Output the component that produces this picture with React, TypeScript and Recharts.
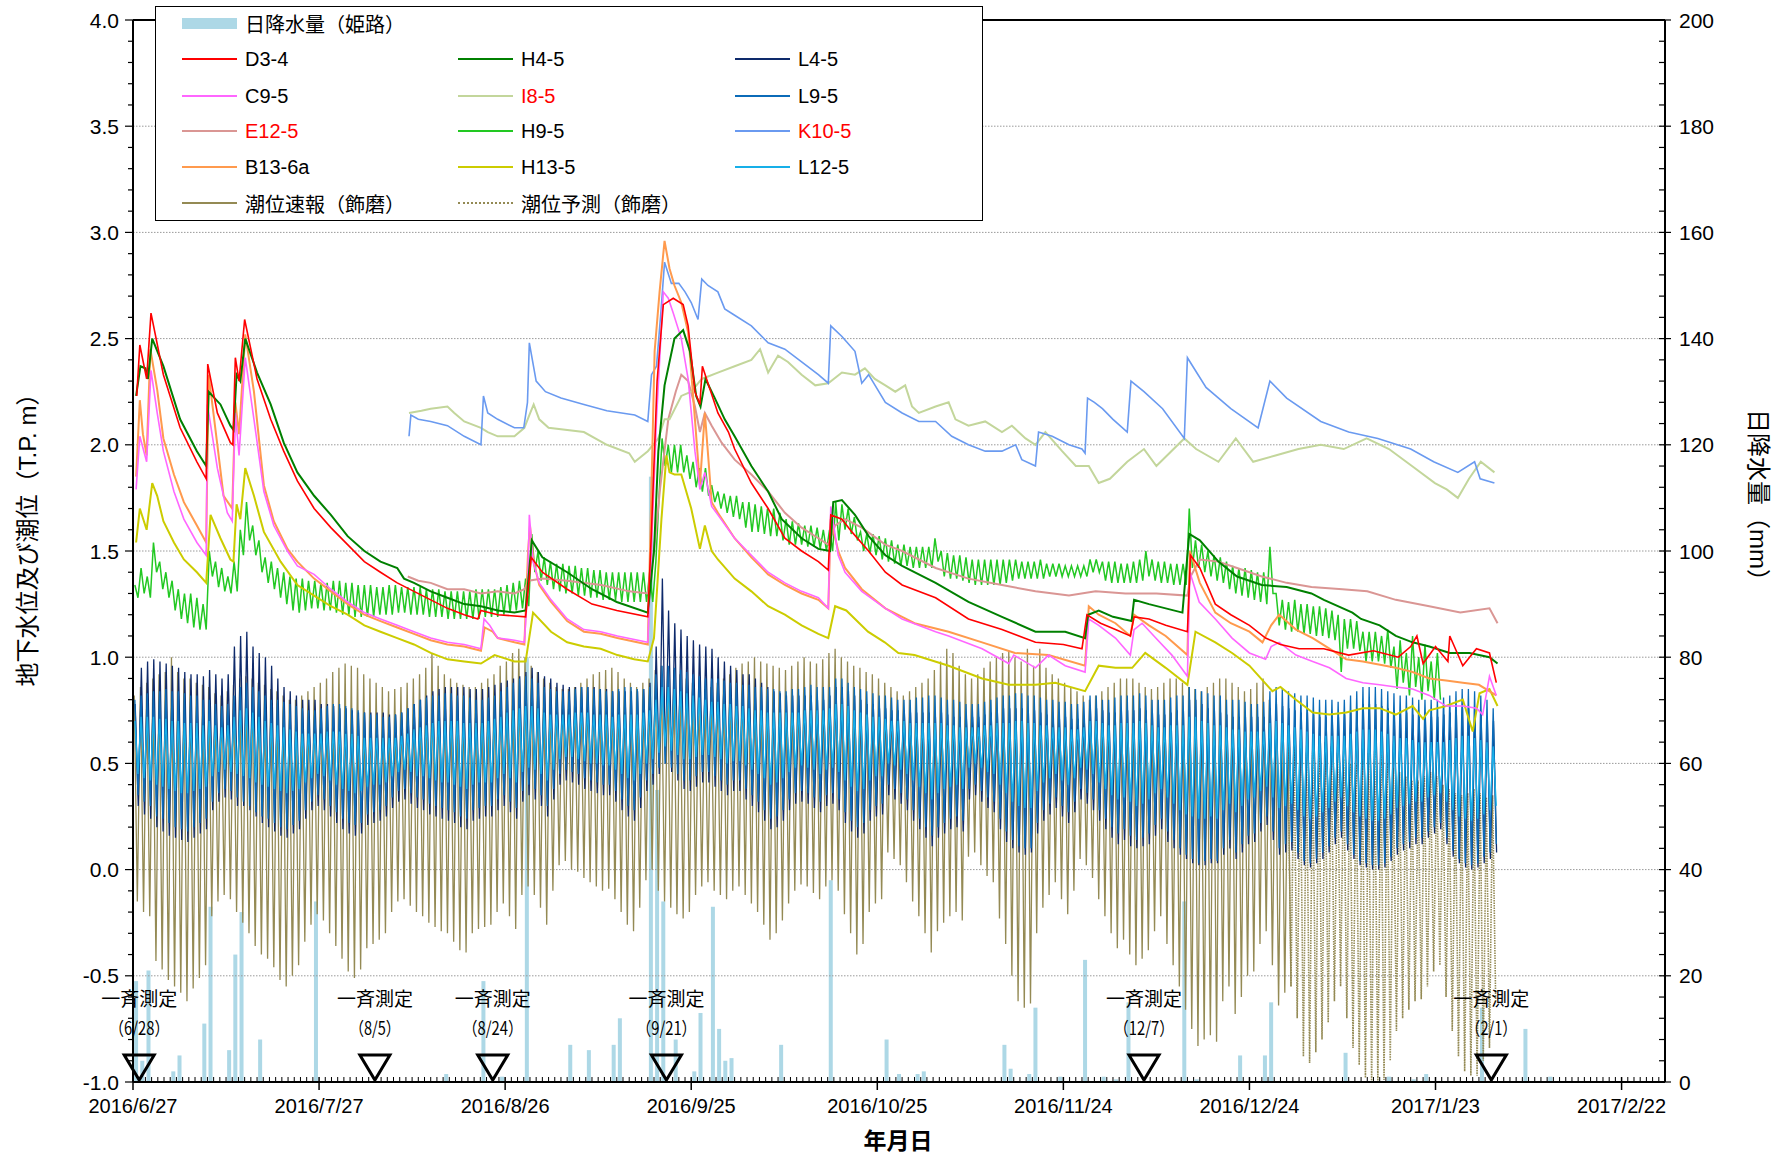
import React from "react";
import { ComposedChart, Bar, Line, XAxis, YAxis, ReferenceLine, Scatter } from "recharts";

// x values are days counted from 2016/6/27
const xTickDays = [0, 30, 60, 90, 120, 150, 180, 210, 240];
const xTickLabels = ["2016/6/27", "2016/7/27", "2016/8/26", "2016/9/25", "2016/10/25", "2016/11/24", "2016/12/24", "2017/1/23", "2017/2/22"];
const leftTicks = [-1.0, -0.5, 0.0, 0.5, 1.0, 1.5, 2.0, 2.5, 3.0, 3.5, 4.0];
const rightTicks = [0, 20, 40, 60, 80, 100, 120, 140, 160, 180, 200];

// daily rainfall (Himeji)
const rainDays = [0, 1, 2, 6, 7, 11, 12, 15, 16, 17, 20, 29, 50, 56, 59, 63, 70, 73, 77, 78, 83, 84, 85, 87, 90, 91, 93, 94, 95, 96, 104, 112, 121, 123, 126, 127, 140, 141, 144, 145, 149, 153, 156, 158, 160, 169, 171, 178, 182, 183, 195, 202, 206, 208, 217, 224, 228];
const rainMm = [19, 4, 21, 2, 5, 11, 33, 6, 24, 32, 8, 34, 1.5, 19, 1, 80, 7, 6, 7, 12, 114, 55, 34, 8, 2, 13, 33, 10, 4, 4.5, 7, 38, 8, 1.5, 1.5, 2, 7, 2.5, 1.5, 14, 1, 23, 1, 0.5, 15, 34, 0.5, 5, 5, 15, 5.5, 1, 0.5, 1.5, 14, 10, 1];

// 一斉測定 dates
const surveyDays = [1, 39, 58, 86, 163, 219];
const surveyLabels = ["6/28", "8/5", "8/24", "9/21", "12/7", "2/1"];

// groundwater levels [day, T.P. m]
const d34: [number, number][] = [[0.6,2.23],[1.1,2.47],[2.2,2.31],[2.9,2.62],[4.9,2.33],[7.6,2.08],[10.3,1.92],[11.8,1.84],[12.05,2.38],[13.6,2.15],[15.7,2.01],[16.1,2.0],[16.5,2.41],[17.1,2.30],[18.0,2.59],[20,2.31],[22.2,2.12],[24.3,1.97],[26.5,1.83],[29.2,1.70],[31.9,1.61],[34.6,1.53],[37.3,1.45],[39.9,1.40],[42.6,1.35],[45.3,1.31],[48,1.27],[50.7,1.23],[53.4,1.20],[55.6,1.18],[56.1,1.22],[58.8,1.20],[63.3,1.19],[64.2,1.47],[66,1.40],[70,1.32],[74,1.25],[78,1.22],[83,1.19],[83.6,1.6],[84.5,2.3],[85.5,2.66],[87.1,2.69],[88.7,2.66],[89.5,2.56],[90.6,2.25],[91.4,2.19],[91.8,2.37],[92.7,2.29],[94.3,2.15],[96,2.06],[97,1.98],[99.7,1.82],[102.4,1.70],[105.1,1.56],[107.8,1.50],[110.5,1.45],[112.1,1.41],[112.5,1.67],[114.3,1.65],[115.9,1.59],[118.6,1.50],[121.3,1.40],[124,1.34],[129.4,1.28],[134.7,1.18],[140.1,1.13],[145.5,1.07],[150,1.06],[153,1.04],[153.8,1.20],[156,1.16],[158.4,1.13],[160.8,1.10],[161.4,1.19],[163.8,1.18],[166.5,1.15],[170,1.12],[170.5,1.48],[172,1.42],[174.5,1.25],[177,1.20],[180,1.15],[182.6,1.09],[185,1.06],[188,1.04],[192,1.04],[196,1.01],[200,1.03],[204,1.00],[206,1.05],[207,1.10],[208,0.97],[210,1.05],[212,0.98],[212.3,1.10],[214.4,0.96],[216.6,1.04],[218.7,1.02],[219.8,0.88]];
const c95: [number, number][] = [[0.5,1.79],[1.1,2.04],[2.2,1.92],[2.9,2.35],[3.9,2.15],[4.9,1.97],[6.6,1.78],[8.2,1.65],[10.3,1.54],[11.8,1.48],[12,2.19],[13.6,1.89],[15.2,1.68],[16,1.64],[16.5,2.15],[17.1,1.95],[18.1,2.41],[19.5,2.12],[21.1,1.78],[22.7,1.62],[24.9,1.50],[26.5,1.43],[29.2,1.39],[31.9,1.32],[34.6,1.26],[37.3,1.21],[39.9,1.18],[42.6,1.15],[45.3,1.12],[48,1.09],[50.7,1.07],[53.4,1.06],[56.1,1.04],[56.6,1.18],[57.5,1.15],[58.8,1.09],[61.5,1.08],[63.1,1.07],[63.6,1.3],[63.9,1.67],[64.5,1.45],[65.5,1.35],[67.4,1.27],[70,1.18],[72.7,1.13],[75.4,1.12],[78.1,1.10],[83,1.07],[84.4,2.12],[85.5,2.72],[86.3,2.69],[87.1,2.62],[88.4,2.50],[89.5,2.31],[90.6,1.97],[91.4,1.79],[92.2,1.87],[93.3,1.71],[94.3,1.67],[97,1.56],[99.7,1.48],[102.4,1.40],[105.1,1.35],[107.8,1.31],[110.5,1.28],[112.1,1.23],[112.5,1.71],[113.7,1.48],[114.8,1.40],[117.5,1.31],[121.3,1.23],[124,1.18],[129.4,1.12],[131.5,1.10],[136.9,1.04],[141.2,0.97],[142,1.01],[145.5,0.95],[147.6,1.01],[150.3,0.96],[153.5,0.93],[154.1,1.18],[155.7,1.15],[158.4,1.09],[160.8,1.01],[161.4,1.13],[162.7,1.16],[164.9,1.09],[167.5,1.01],[170,0.91],[170.4,1.40],[171.9,1.26],[174.5,1.18],[177.2,1.09],[180,1.02],[182.6,0.99],[183.5,1.05],[184.8,1.07],[187.5,1.01],[190.2,0.98],[192.9,0.95],[195.6,0.90],[198.3,0.88],[201,0.87],[203.6,0.86],[206.3,0.85],[209,0.82],[211.7,0.77],[214.4,0.77],[216.6,0.76],[217.6,0.73],[218.7,0.91],[219.8,0.82]];
const e125: [number, number][] = [[44.3,1.38],[46,1.36],[48,1.35],[50.7,1.32],[53.4,1.32],[56.1,1.30],[58.8,1.31],[61.5,1.30],[63.1,1.32],[63.8,1.36],[66,1.37],[70,1.36],[75.5,1.34],[80,1.31],[83,1.30],[84,1.5],[85,1.8],[86.3,2.12],[87.5,2.25],[88.4,2.33],[89.5,2.30],[90.6,2.18],[91.4,2.06],[92.2,2.15],[93.3,2.09],[94.9,2.01],[97,1.93],[99.7,1.86],[102.4,1.78],[105.1,1.68],[107.8,1.61],[110.5,1.56],[112.1,1.53],[113.2,1.62],[114.8,1.65],[117.5,1.61],[121.3,1.53],[124,1.50],[129.4,1.42],[134.7,1.37],[140.1,1.34],[145.5,1.31],[150.9,1.29],[155.2,1.31],[160,1.30],[165,1.30],[170,1.29],[170.5,1.38],[172,1.46],[175,1.45],[178,1.42],[182,1.38],[186,1.35],[190,1.33],[195,1.32],[199,1.31],[203.6,1.27],[209,1.24],[214,1.21],[218.7,1.23],[220,1.16]];
const b136a: [number, number][] = [[0.5,1.85],[1.1,2.21],[1.6,2.05],[2.2,1.95],[2.8,2.45],[3.9,2.26],[4.9,2.03],[6.6,1.86],[8.2,1.73],[10.3,1.62],[11.8,1.54],[12.2,2.33],[13.6,2.0],[14.6,1.76],[16,1.70],[16.5,2.2],[17.1,2.05],[18.1,2.52],[19.5,2.25],[21.1,1.81],[22.7,1.64],[24.9,1.51],[26.5,1.45],[29.2,1.37],[31.9,1.31],[34.6,1.25],[37.3,1.20],[39.9,1.17],[42.6,1.14],[45.3,1.11],[48,1.08],[50.7,1.06],[53.4,1.05],[56.1,1.03],[56.7,1.14],[58,1.12],[58.8,1.09],[61.5,1.07],[63.1,1.06],[63.7,1.5],[64,1.62],[64.6,1.45],[65.5,1.34],[67.4,1.26],[70,1.17],[72.7,1.12],[75.4,1.11],[78.1,1.09],[83,1.06],[84.1,2.44],[84.9,2.72],[85.7,2.96],[86.5,2.83],[87.3,2.75],[88.4,2.67],[89.5,2.53],[90.6,2.12],[91.4,1.81],[92.2,2.15],[93.3,1.73],[94.3,1.68],[97,1.56],[99.7,1.47],[102.4,1.39],[105.1,1.34],[107.8,1.30],[110.5,1.27],[112.1,1.23],[112.5,1.65],[113.7,1.50],[114.8,1.42],[117.5,1.32],[121.3,1.23],[124,1.19],[126,1.16],[131.5,1.12],[136.9,1.07],[142.2,1.02],[147.6,1.01],[153.5,0.96],[154.1,1.24],[155.7,1.20],[158.4,1.16],[160.8,1.10],[161.4,1.20],[163.8,1.15],[166.5,1.10],[170,1.01],[170.4,1.50],[172,1.35],[174.5,1.21],[177,1.16],[180,1.12],[182.1,1.07],[183.5,1.15],[184.8,1.20],[187.5,1.13],[190.2,1.09],[192.9,1.04],[195.6,0.99],[198.3,0.98],[203.6,0.95],[206.3,0.93],[209,0.90],[211.7,0.89],[214.4,0.88],[217,0.87],[219.8,0.82]];
const h45: [number, number][] = [[0.5,2.23],[1.2,2.37],[2,2.36],[2.4,2.31],[3.1,2.50],[4.9,2.37],[7.6,2.12],[10.3,1.97],[11.8,1.90],[12.2,2.25],[14.1,2.19],[15.7,2.09],[16.2,2.07],[16.7,2.33],[17.3,2.30],[18.1,2.50],[20,2.34],[22.2,2.19],[24.3,2.01],[26.5,1.87],[29.2,1.76],[31.9,1.67],[34.6,1.57],[37.3,1.50],[39.9,1.45],[42.6,1.42],[43.7,1.37],[45.3,1.35],[48,1.31],[50.7,1.28],[53.4,1.25],[56.1,1.24],[58.8,1.22],[61.5,1.21],[63.3,1.22],[64.3,1.55],[66,1.47],[70,1.40],[74,1.32],[78,1.26],[83,1.21],[84,1.5],[84.7,1.97],[85.7,2.28],[87.3,2.50],[88.7,2.54],[89.8,2.44],[90.8,2.23],[91.5,2.18],[92.3,2.31],[93.8,2.22],[95.4,2.12],[97,2.04],[99.7,1.90],[102.4,1.78],[104.6,1.65],[107.8,1.56],[110.5,1.51],[112.4,1.50],[112.9,1.73],[114.3,1.74],[116.4,1.67],[118.6,1.57],[121.3,1.48],[124,1.43],[129.4,1.35],[134.7,1.26],[140.1,1.19],[145.5,1.12],[150.3,1.12],[153.5,1.09],[154,1.2],[155.7,1.22],[158,1.19],[161,1.17],[161.4,1.27],[163.8,1.25],[169.2,1.21],[170.3,1.58],[172,1.55],[175,1.45],[178,1.38],[182,1.34],[186,1.33],[190,1.30],[192,1.27],[196.6,1.21],[198,1.18],[201,1.15],[203.6,1.10],[206.3,1.07],[209,1.05],[212.3,1.02],[215.5,1.02],[218.7,1.0],[220,0.97]];
const i85: [number, number][] = [[44.5,2.15],[46.5,2.16],[48,2.17],[50.7,2.18],[51.8,2.15],[53.4,2.11],[56.1,2.08],[57.2,2.06],[58.8,2.04],[61.5,2.04],[63.1,2.08],[63.9,2.14],[64.6,2.19],[65.5,2.12],[67,2.08],[72.7,2.06],[76.4,2.0],[80,1.96],[80.9,1.92],[83,1.97],[84.7,2.03],[85.7,2.12],[86.5,2.12],[88.4,2.23],[90,2.25],[91.7,2.31],[94.3,2.34],[97,2.37],[99.7,2.40],[101.1,2.45],[102.4,2.34],[104,2.42],[105.6,2.39],[107.8,2.33],[110,2.28],[112.1,2.29],[114.3,2.34],[116.4,2.33],[118,2.36],[119.6,2.31],[121.3,2.28],[122.9,2.25],[124.5,2.28],[125.6,2.18],[126.7,2.15],[129.4,2.18],[131.5,2.20],[132.6,2.12],[134.7,2.09],[137.4,2.11],[140.1,2.06],[141.7,2.09],[143.9,2.03],[145.5,2.0],[147.1,2.06],[149.8,1.97],[152,1.90],[154.1,1.90],[155.7,1.82],[157.5,1.84],[160.3,1.92],[163,1.98],[165,1.90],[169.5,2.03],[171.4,1.98],[175,1.92],[177.8,2.03],[180.6,1.92],[184.2,1.95],[187.9,1.98],[191.5,2.0],[195.2,1.98],[198.9,2.03],[202.5,1.98],[206.2,1.90],[209.9,1.82],[211.8,1.79],[213.6,1.75],[215.4,1.84],[217.3,1.92],[219.5,1.87]];
const h135: [number, number][] = [[0.5,1.54],[1.1,1.70],[2.2,1.60],[3.1,1.82],[3.9,1.76],[4.9,1.64],[6.6,1.54],[8.2,1.46],[10.3,1.40],[11.8,1.35],[12.5,1.67],[14.1,1.56],[15.7,1.46],[16.2,1.45],[16.7,1.72],[17.3,1.65],[18.1,1.89],[19.5,1.76],[21.1,1.59],[23.8,1.45],[26.5,1.34],[29.2,1.29],[31.9,1.24],[34.6,1.20],[37.3,1.15],[39.9,1.12],[42.6,1.09],[45.3,1.06],[48,1.02],[50.7,0.99],[53.4,0.98],[56.1,0.97],[58.3,1.01],[61.5,0.98],[63.3,0.98],[64.5,1.21],[67.4,1.12],[70,1.07],[72.7,1.05],[75.4,1.04],[78.1,1.01],[80.8,0.99],[83,0.98],[84,1.09],[85.2,1.65],[86,1.95],[86.5,1.87],[87.3,1.86],[88.4,1.86],[90,1.70],[91.4,1.51],[92.2,1.62],[93.3,1.50],[94.3,1.46],[97,1.37],[99.7,1.31],[102.4,1.24],[105.1,1.20],[107.8,1.15],[110.5,1.11],[112.1,1.09],[113.2,1.24],[115,1.22],[118.5,1.12],[121.2,1.07],[123.4,1.02],[126,1.01],[131.5,0.96],[136.9,0.90],[141.2,0.87],[145.5,0.87],[148.7,0.88],[153.5,0.84],[155.7,0.96],[158.4,0.95],[161.1,0.95],[163.2,1.02],[166.5,0.95],[170,0.87],[171.3,1.12],[174.5,1.07],[177.2,1.02],[180,0.96],[183.7,0.84],[185,0.86],[187.5,0.80],[190.2,0.74],[192.9,0.73],[195.6,0.74],[198.3,0.76],[201,0.76],[203.6,0.73],[206.3,0.77],[208,0.71],[209,0.75],[211.7,0.77],[214.4,0.80],[216,0.65],[217.1,0.83],[218.7,0.85],[220,0.77]];
const k105: [number, number][] = [[44.5,2.04],[44.8,2.14],[46,2.12],[48,2.11],[50.7,2.09],[53.4,2.04],[56.1,2.0],[56.5,2.23],[57.2,2.15],[58.8,2.12],[61.5,2.08],[63,2.08],[63.6,2.2],[63.9,2.48],[65,2.30],[66.5,2.25],[69,2.22],[72.7,2.19],[76.4,2.16],[80.9,2.14],[83,2.11],[83.6,2.33],[84.4,2.37],[85.1,2.62],[85.7,2.86],[86.8,2.76],[88,2.76],[89,2.72],[90,2.67],[91.1,2.59],[91.7,2.78],[92.7,2.75],[94.3,2.72],[95.4,2.64],[97,2.61],[99.7,2.56],[102.4,2.48],[105.1,2.45],[107.8,2.39],[110.5,2.33],[112.1,2.29],[112.5,2.56],[114.3,2.51],[116.4,2.44],[117.5,2.29],[118.6,2.33],[121.3,2.20],[124,2.15],[126.7,2.11],[129.4,2.11],[132,2.04],[134.7,2.0],[137.4,1.97],[140.1,1.97],[142.3,2.0],[143.3,1.93],[145.5,1.90],[146,2.06],[148.2,2.04],[150.9,2.0],[153,1.98],[153.5,1.96],[153.9,2.22],[155,2.20],[156.3,2.17],[158,2.12],[160.3,2.06],[160.9,2.30],[163,2.25],[166,2.17],[169.5,2.03],[170,2.41],[173,2.27],[177,2.17],[181.4,2.08],[183.3,2.30],[186,2.22],[191.5,2.11],[196,2.06],[200.7,2.03],[206,1.98],[209.7,1.92],[213.6,1.87],[216.3,1.92],[217.2,1.84],[219.5,1.82]];

// daily high / low (one value per day)
const h95Hi = [1.34,1.42,1.38,1.54,1.45,1.40,1.36,1.32,1.30,1.30,1.28,1.25,1.50,1.45,1.42,1.38,1.45,1.60,1.73,1.62,1.55,1.47,1.45,1.42,1.40,1.38,1.37,1.37,1.36,1.36,1.35,1.35,1.36,1.36,1.35,1.35,1.34,1.34,1.34,1.33,1.33,1.34,1.34,1.33,1.33,1.33,1.33,1.32,1.32,1.32,1.31,1.31,1.31,1.31,1.31,1.32,1.32,1.32,1.32,1.33,1.34,1.35,1.36,1.37,1.58,1.50,1.47,1.45,1.44,1.44,1.43,1.43,1.42,1.42,1.41,1.41,1.40,1.40,1.40,1.40,1.40,1.40,1.40,1.40,1.45,2.03,2.00,2.00,2.00,1.95,1.92,1.89,1.89,1.81,1.78,1.77,1.76,1.76,1.73,1.73,1.72,1.71,1.70,1.70,1.68,1.65,1.64,1.63,1.62,1.62,1.61,1.60,1.60,1.73,1.72,1.70,1.66,1.59,1.58,1.58,1.57,1.56,1.55,1.53,1.53,1.52,1.52,1.52,1.52,1.56,1.50,1.49,1.48,1.48,1.47,1.46,1.46,1.46,1.46,1.46,1.46,1.46,1.46,1.45,1.45,1.45,1.46,1.44,1.44,1.44,1.43,1.43,1.43,1.43,1.46,1.46,1.45,1.45,1.45,1.44,1.44,1.45,1.46,1.50,1.46,1.45,1.45,1.44,1.44,1.44,1.70,1.55,1.53,1.50,1.48,1.47,1.45,1.43,1.42,1.42,1.41,1.40,1.40,1.52,1.30,1.27,1.26,1.27,1.25,1.25,1.24,1.24,1.23,1.22,1.20,1.18,1.18,1.17,1.12,1.12,1.12,1.10,1.13,1.05,1.08,1.02,1.10,1.00,1.06,0.98,1.02];
const h95Lo = [1.28,1.30,1.28,1.40,1.32,1.28,1.22,1.18,1.16,1.14,1.13,1.13,1.38,1.33,1.31,1.30,1.31,1.48,1.55,1.48,1.40,1.35,1.32,1.28,1.25,1.22,1.21,1.22,1.23,1.23,1.22,1.22,1.21,1.20,1.20,1.19,1.19,1.19,1.19,1.20,1.20,1.20,1.21,1.21,1.20,1.20,1.20,1.19,1.19,1.19,1.18,1.18,1.18,1.18,1.18,1.18,1.19,1.19,1.19,1.20,1.21,1.22,1.23,1.24,1.40,1.36,1.34,1.32,1.31,1.30,1.30,1.29,1.29,1.28,1.28,1.27,1.27,1.27,1.26,1.26,1.26,1.26,1.26,1.26,1.75,1.90,1.87,1.87,1.87,1.84,1.80,1.78,1.76,1.73,1.70,1.68,1.66,1.65,1.61,1.59,1.59,1.58,1.57,1.57,1.55,1.53,1.53,1.53,1.52,1.52,1.51,1.50,1.50,1.55,1.60,1.58,1.55,1.50,1.49,1.48,1.46,1.45,1.44,1.43,1.43,1.42,1.42,1.42,1.42,1.45,1.38,1.37,1.37,1.36,1.35,1.34,1.34,1.34,1.34,1.34,1.35,1.36,1.37,1.37,1.37,1.37,1.37,1.38,1.38,1.38,1.38,1.38,1.38,1.38,1.40,1.40,1.36,1.35,1.35,1.35,1.35,1.35,1.36,1.38,1.36,1.35,1.35,1.34,1.34,1.34,1.42,1.42,1.40,1.38,1.36,1.35,1.32,1.30,1.29,1.28,1.27,1.26,1.25,1.30,1.15,1.13,1.12,1.12,1.11,1.11,1.10,1.10,1.09,1.08,0.93,1.04,1.04,1.03,0.98,0.98,0.98,0.97,0.95,0.85,0.88,0.82,0.86,0.80,0.84,0.80,0.80];

const l45Hi = [0.78,0.95,0.98,0.99,0.98,0.97,0.96,0.95,0.93,0.92,0.92,0.91,0.94,0.92,0.90,0.92,1.05,1.10,1.12,1.05,1.02,1.00,0.96,0.90,0.86,0.84,0.82,0.80,0.80,0.80,0.78,0.78,0.77,0.76,0.76,0.75,0.74,0.74,0.74,0.74,0.74,0.73,0.73,0.74,0.76,0.78,0.80,0.82,0.84,0.85,0.86,0.86,0.86,0.86,0.85,0.85,0.85,0.86,0.87,0.88,0.89,0.90,0.91,0.93,0.95,0.93,0.91,0.90,0.88,0.87,0.86,0.86,0.86,0.86,0.86,0.85,0.85,0.84,0.84,0.84,0.84,0.84,0.85,0.88,1.05,1.37,1.22,1.16,1.13,1.10,1.08,1.06,1.05,1.04,1.00,0.98,0.96,0.94,0.92,0.92,0.90,0.88,0.86,0.84,0.83,0.82,0.82,0.82,0.82,0.82,0.80,0.80,0.82,0.86,0.86,0.84,0.82,0.80,0.78,0.78,0.76,0.76,0.75,0.75,0.75,0.74,0.74,0.74,0.74,0.74,0.74,0.73,0.72,0.72,0.72,0.72,0.72,0.73,0.74,0.75,0.76,0.76,0.76,0.76,0.75,0.75,0.74,0.73,0.72,0.72,0.72,0.71,0.71,0.72,0.76,0.76,0.75,0.74,0.74,0.75,0.75,0.75,0.76,0.75,0.74,0.73,0.73,0.74,0.75,0.75,0.80,0.80,0.78,0.76,0.75,0.74,0.73,0.72,0.72,0.72,0.72,0.72,0.72,0.76,0.78,0.77,0.76,0.75,0.74,0.74,0.73,0.72,0.72,0.72,0.72,0.73,0.74,0.76,0.78,0.78,0.78,0.77,0.76,0.75,0.74,0.74,0.73,0.72,0.72,0.72,0.72,0.73,0.74,0.75,0.76,0.76,0.75,0.73,0.72,0.70];
const l45Lo = [0.30,0.26,0.24,0.20,0.18,0.16,0.15,0.14,0.13,0.15,0.17,0.19,0.28,0.32,0.34,0.33,0.30,0.30,0.28,0.25,0.22,0.20,0.18,0.16,0.15,0.17,0.19,0.24,0.28,0.30,0.28,0.25,0.22,0.19,0.17,0.16,0.17,0.21,0.22,0.23,0.25,0.29,0.32,0.33,0.31,0.29,0.28,0.26,0.25,0.24,0.23,0.22,0.20,0.19,0.23,0.24,0.25,0.25,0.28,0.30,0.27,0.24,0.32,0.35,0.33,0.30,0.25,0.33,0.40,0.42,0.41,0.40,0.38,0.37,0.36,0.35,0.35,0.32,0.28,0.25,0.23,0.29,0.37,0.40,0.45,0.50,0.46,0.42,0.38,0.37,0.39,0.41,0.41,0.39,0.37,0.35,0.37,0.37,0.33,0.30,0.27,0.23,0.19,0.20,0.23,0.28,0.31,0.32,0.31,0.29,0.27,0.30,0.31,0.28,0.22,0.18,0.15,0.17,0.23,0.25,0.26,0.35,0.33,0.31,0.28,0.23,0.19,0.15,0.11,0.15,0.17,0.19,0.20,0.18,0.33,0.35,0.32,0.29,0.27,0.19,0.13,0.10,0.08,0.07,0.08,0.17,0.23,0.26,0.29,0.25,0.22,0.27,0.33,0.31,0.28,0.23,0.19,0.15,0.12,0.14,0.11,0.10,0.11,0.12,0.16,0.19,0.13,0.10,0.07,0.05,0.03,0.02,0.02,0.03,0.03,0.07,0.10,0.05,0.08,0.12,0.13,0.18,0.21,0.14,0.07,0.08,0.09,0.05,0.02,0.01,0.03,0.05,0.08,0.12,0.15,0.09,0.05,0.02,0.01,0.00,0.00,0.01,0.04,0.07,0.09,0.10,0.12,0.12,0.15,0.17,0.19,0.12,0.06,0.03,0.01,0.00,0.01,0.03,0.05,0.08];

const l95Hi = [0.80,0.82,0.83,0.84,0.84,0.85,0.84,0.84,0.83,0.82,0.82,0.80,0.80,0.78,0.77,0.78,0.82,0.86,0.88,0.86,0.84,0.82,0.80,0.80,0.79,0.78,0.77,0.76,0.75,0.75,0.76,0.77,0.78,0.78,0.77,0.76,0.75,0.74,0.73,0.73,0.72,0.72,0.73,0.74,0.76,0.78,0.80,0.81,0.82,0.82,0.83,0.83,0.82,0.82,0.81,0.80,0.80,0.81,0.82,0.84,0.86,0.88,0.90,0.91,0.90,0.88,0.86,0.85,0.84,0.84,0.84,0.85,0.86,0.86,0.85,0.85,0.84,0.84,0.85,0.86,0.86,0.85,0.85,0.86,0.92,0.96,0.96,0.95,0.94,0.93,0.92,0.91,0.90,0.90,0.90,0.89,0.88,0.88,0.87,0.87,0.86,0.86,0.85,0.85,0.84,0.84,0.85,0.85,0.86,0.87,0.86,0.86,0.86,0.90,0.90,0.88,0.86,0.85,0.84,0.83,0.82,0.82,0.81,0.80,0.80,0.80,0.81,0.81,0.82,0.82,0.81,0.80,0.80,0.79,0.78,0.78,0.78,0.79,0.80,0.81,0.82,0.82,0.83,0.83,0.82,0.82,0.81,0.80,0.80,0.79,0.79,0.78,0.78,0.79,0.82,0.82,0.80,0.80,0.81,0.82,0.82,0.82,0.83,0.82,0.80,0.80,0.80,0.81,0.82,0.82,0.86,0.85,0.84,0.83,0.82,0.82,0.80,0.80,0.80,0.79,0.78,0.78,0.79,0.84,0.86,0.85,0.84,0.83,0.82,0.82,0.81,0.80,0.80,0.80,0.79,0.80,0.82,0.84,0.86,0.86,0.86,0.85,0.84,0.83,0.82,0.82,0.81,0.80,0.80,0.80,0.80,0.81,0.82,0.84,0.85,0.85,0.84,0.82,0.80,0.76];
const l95Lo = [0.35,0.32,0.30,0.25,0.24,0.22,0.20,0.19,0.18,0.20,0.22,0.24,0.32,0.36,0.38,0.37,0.34,0.32,0.30,0.27,0.25,0.24,0.22,0.20,0.19,0.21,0.23,0.28,0.32,0.35,0.33,0.30,0.27,0.24,0.22,0.21,0.22,0.26,0.27,0.28,0.30,0.34,0.37,0.38,0.36,0.34,0.33,0.31,0.30,0.29,0.28,0.27,0.25,0.24,0.28,0.29,0.30,0.30,0.33,0.35,0.32,0.29,0.37,0.40,0.38,0.35,0.30,0.38,0.45,0.47,0.46,0.45,0.43,0.42,0.41,0.40,0.40,0.37,0.33,0.30,0.28,0.34,0.42,0.45,0.48,0.50,0.48,0.45,0.42,0.42,0.44,0.46,0.46,0.44,0.42,0.40,0.42,0.42,0.38,0.35,0.32,0.28,0.24,0.25,0.28,0.33,0.36,0.37,0.36,0.34,0.32,0.35,0.36,0.33,0.27,0.23,0.20,0.22,0.28,0.30,0.31,0.40,0.38,0.36,0.33,0.28,0.24,0.20,0.16,0.20,0.22,0.24,0.25,0.23,0.38,0.40,0.37,0.34,0.32,0.24,0.18,0.14,0.11,0.10,0.10,0.22,0.28,0.31,0.34,0.30,0.27,0.32,0.38,0.36,0.33,0.28,0.24,0.20,0.17,0.19,0.16,0.14,0.15,0.17,0.21,0.24,0.18,0.14,0.10,0.07,0.05,0.03,0.04,0.05,0.04,0.10,0.14,0.08,0.12,0.16,0.17,0.22,0.25,0.18,0.10,0.12,0.13,0.08,0.04,0.03,0.05,0.08,0.11,0.15,0.18,0.12,0.07,0.04,0.03,0.02,0.02,0.03,0.06,0.10,0.12,0.13,0.15,0.15,0.18,0.20,0.22,0.15,0.09,0.05,0.03,0.02,0.03,0.06,0.08,0.12];

const l125Hi = [0.70,0.72,0.72,0.72,0.71,0.71,0.70,0.70,0.69,0.69,0.69,0.68,0.70,0.68,0.67,0.68,0.72,0.75,0.76,0.74,0.72,0.70,0.69,0.68,0.67,0.66,0.65,0.64,0.64,0.64,0.64,0.65,0.65,0.65,0.64,0.64,0.63,0.62,0.62,0.62,0.62,0.62,0.62,0.63,0.64,0.66,0.67,0.68,0.69,0.70,0.70,0.70,0.70,0.69,0.69,0.69,0.69,0.70,0.71,0.72,0.74,0.75,0.76,0.77,0.77,0.76,0.74,0.73,0.73,0.73,0.73,0.74,0.74,0.74,0.73,0.73,0.73,0.72,0.73,0.73,0.73,0.73,0.74,0.75,0.80,0.86,0.86,0.85,0.84,0.83,0.82,0.81,0.80,0.79,0.79,0.78,0.78,0.77,0.77,0.76,0.75,0.75,0.74,0.74,0.74,0.74,0.74,0.74,0.75,0.75,0.75,0.75,0.76,0.78,0.78,0.77,0.75,0.74,0.73,0.72,0.72,0.71,0.70,0.70,0.70,0.69,0.69,0.69,0.69,0.69,0.69,0.68,0.68,0.67,0.67,0.67,0.67,0.68,0.68,0.69,0.69,0.69,0.70,0.70,0.69,0.69,0.68,0.68,0.67,0.67,0.67,0.66,0.66,0.67,0.70,0.70,0.69,0.68,0.68,0.69,0.69,0.69,0.70,0.69,0.68,0.67,0.67,0.68,0.68,0.68,0.72,0.72,0.70,0.69,0.68,0.68,0.67,0.66,0.66,0.65,0.65,0.65,0.65,0.69,0.70,0.69,0.68,0.67,0.66,0.65,0.64,0.63,0.63,0.63,0.63,0.63,0.64,0.65,0.66,0.66,0.66,0.65,0.64,0.63,0.62,0.62,0.61,0.60,0.60,0.60,0.60,0.60,0.61,0.62,0.63,0.63,0.62,0.61,0.60,0.58];
const l125Lo = [0.45,0.43,0.42,0.40,0.39,0.38,0.37,0.36,0.36,0.37,0.38,0.39,0.44,0.46,0.47,0.46,0.45,0.44,0.43,0.41,0.40,0.39,0.38,0.37,0.36,0.37,0.38,0.41,0.43,0.45,0.44,0.42,0.40,0.38,0.37,0.36,0.37,0.39,0.40,0.40,0.41,0.44,0.46,0.47,0.46,0.44,0.44,0.43,0.42,0.41,0.41,0.40,0.39,0.38,0.40,0.41,0.41,0.41,0.43,0.45,0.43,0.41,0.46,0.48,0.47,0.45,0.42,0.47,0.52,0.53,0.53,0.52,0.51,0.50,0.50,0.49,0.49,0.47,0.45,0.43,0.42,0.45,0.50,0.52,0.55,0.58,0.56,0.54,0.52,0.52,0.53,0.54,0.54,0.53,0.52,0.50,0.51,0.51,0.49,0.47,0.45,0.43,0.40,0.41,0.43,0.46,0.48,0.49,0.48,0.47,0.45,0.47,0.48,0.46,0.42,0.39,0.37,0.38,0.42,0.44,0.44,0.50,0.49,0.47,0.45,0.42,0.39,0.36,0.33,0.36,0.38,0.39,0.40,0.38,0.48,0.50,0.48,0.46,0.45,0.40,0.36,0.32,0.30,0.29,0.29,0.37,0.41,0.43,0.45,0.42,0.40,0.43,0.48,0.47,0.45,0.41,0.38,0.35,0.33,0.34,0.32,0.30,0.31,0.33,0.36,0.38,0.34,0.31,0.28,0.26,0.25,0.24,0.24,0.25,0.24,0.28,0.31,0.27,0.30,0.33,0.34,0.37,0.39,0.34,0.29,0.30,0.31,0.28,0.25,0.24,0.25,0.27,0.29,0.32,0.34,0.30,0.27,0.25,0.24,0.23,0.23,0.24,0.26,0.29,0.30,0.31,0.32,0.32,0.34,0.35,0.36,0.32,0.28,0.25,0.24,0.23,0.24,0.26,0.28,0.30];

// tide at Shikama: observed days 0-186, predicted days 186-219
const tideHi = [0.82,0.86,0.88,0.90,0.92,0.93,1.00,0.93,0.90,0.90,0.88,0.87,0.86,0.83,0.82,0.84,0.87,0.90,0.91,0.90,0.88,0.87,0.85,0.84,0.82,0.80,0.80,0.82,0.84,0.86,0.88,0.90,0.93,0.95,0.97,0.96,0.95,0.92,0.90,0.88,0.86,0.84,0.85,0.86,0.88,0.90,0.92,0.95,1.02,0.96,0.92,0.90,0.88,0.87,0.86,0.86,0.88,0.90,0.92,0.96,0.98,1.02,1.04,1.00,0.96,0.93,0.90,0.88,0.86,0.85,0.85,0.86,0.88,0.90,0.92,0.93,0.94,0.95,0.93,0.90,0.88,0.86,0.88,0.90,0.94,0.96,0.95,0.94,0.92,0.90,0.88,0.86,0.85,0.86,0.88,0.90,0.92,0.95,0.97,0.98,1.00,0.98,0.97,0.96,0.95,0.94,0.96,0.98,1.00,0.98,0.97,0.99,1.02,1.04,1.00,0.98,0.96,0.95,0.93,0.92,0.90,0.88,0.86,0.84,0.82,0.84,0.86,0.88,0.90,0.94,0.98,1.04,1.02,0.96,0.92,0.90,0.92,0.95,0.98,1.00,1.02,1.03,1.00,0.98,1.04,0.96,1.04,0.95,0.92,0.90,0.88,0.86,0.84,0.82,0.80,0.82,0.84,0.86,0.88,0.90,0.90,0.90,0.88,0.86,0.85,0.86,0.88,0.90,0.90,0.88,0.86,0.85,0.84,0.86,0.88,0.90,0.90,0.88,0.86,0.84,0.85,0.88,0.90,0.80,0.70,0.66,0.62];
const tideLo = [-0.15,-0.20,-0.22,-0.43,-0.47,-0.52,-0.55,-0.58,-0.62,-0.56,-0.51,-0.45,-0.22,-0.15,-0.12,-0.14,-0.20,-0.25,-0.30,-0.36,-0.40,-0.42,-0.46,-0.52,-0.55,-0.50,-0.45,-0.34,-0.26,-0.21,-0.24,-0.30,-0.36,-0.42,-0.48,-0.51,-0.47,-0.37,-0.35,-0.33,-0.30,-0.20,-0.15,-0.14,-0.17,-0.20,-0.22,-0.25,-0.27,-0.29,-0.30,-0.34,-0.38,-0.39,-0.30,-0.28,-0.27,-0.26,-0.20,-0.16,-0.22,-0.28,-0.12,-0.08,-0.12,-0.18,-0.26,-0.10,0.02,0.04,0.00,-0.01,-0.04,-0.06,-0.08,-0.10,-0.09,-0.14,-0.20,-0.26,-0.29,-0.18,-0.05,0.00,-0.10,-0.15,-0.18,-0.21,-0.23,-0.20,-0.12,-0.08,-0.06,-0.10,-0.12,-0.14,-0.10,-0.08,-0.12,-0.16,-0.20,-0.26,-0.33,-0.30,-0.24,-0.16,-0.10,-0.07,-0.08,-0.11,-0.14,-0.08,-0.05,-0.10,-0.21,-0.30,-0.40,-0.35,-0.20,-0.16,-0.14,0.08,0.05,0.02,-0.06,-0.15,-0.22,-0.30,-0.39,-0.29,-0.25,-0.22,-0.20,-0.24,0.06,0.08,0.02,-0.03,-0.06,-0.23,-0.35,-0.50,-0.62,-0.65,-0.63,-0.30,-0.18,-0.12,-0.06,-0.14,-0.21,-0.10,0.05,0.02,-0.04,-0.14,-0.22,-0.30,-0.37,-0.33,-0.40,-0.45,-0.42,-0.38,-0.29,-0.22,-0.35,-0.45,-0.55,-0.66,-0.75,-0.83,-0.80,-0.78,-0.81,-0.62,-0.55,-0.68,-0.60,-0.50,-0.48,-0.35,-0.29,-0.45,-0.64,-0.58,-0.55];
const predHi = [0.60,0.58,0.56,0.55,0.56,0.58,0.60,0.58,0.55,0.52,0.50,0.50,0.52,0.55,0.56,0.54,0.50,0.48,0.46,0.44,0.42,0.42,0.44,0.46,0.44,0.40,0.38,0.36,0.35,0.36,0.38,0.36,0.34,0.35];
const predLo = [-0.55,-0.70,-0.88,-0.91,-0.86,-0.80,-0.72,-0.62,-0.55,-0.70,-0.84,-0.92,-0.98,-1.00,-1.00,-0.99,-0.90,-0.76,-0.70,-0.66,-0.62,-0.61,-0.55,-0.48,-0.45,-0.60,-0.76,-0.88,-0.95,-0.97,-0.97,-0.90,-0.84,-0.62];

const LATIN = "'Liberation Sans', Arial, sans-serif";
const JP = "'Noto Sans CJK JP', sans-serif";
const MIXED = "'Liberation Sans', 'Noto Sans CJK JP', sans-serif";

const C = {
  rain: "#ADD8E6",
  d34: "#FF0000",
  c95: "#FF66FF",
  e125: "#DA9694",
  b136a: "#FF9A4D",
  tide: "#948A54",
  h45: "#008000",
  i85: "#C3D69B",
  h95: "#22C822",
  h135: "#CCCC00",
  l45: "#0E2A6B",
  l95: "#0B6BB8",
  k105: "#6A9AF0",
  l125: "#17AFE8",
};

const pts = (a: [number, number][]) => a.map(([d, v]) => ({ d, v }));
const zigzag = (hi: number[], lo: number[], start: number, phase: number) => {
  const out: { d: number; v: number }[] = [];
  hi.forEach((h, i) => {
    out.push({ d: start + i + phase, v: h });
    out.push({ d: start + i + phase + 0.5, v: lo[i] });
  });
  return out;
};

const rainData = rainDays.map((d, i) => ({ d: d + 0.5, rain: rainMm[i] }));
const surveyData = surveyDays.map((d, i) => ({ d, v: -1, label: surveyLabels[i] }));

const xAllTicks = Array.from({ length: 248 }, (_, i) => i);
const leftAllTicks = Array.from({ length: 51 }, (_, i) => Math.round((-1 + i * 0.1) * 10) / 10);
const rightAllTicks = Array.from({ length: 51 }, (_, i) => i * 4);

function XTick({ x, y, payload }: any) {
  const i = xTickDays.indexOf(payload.value);
  if (i < 0) return <line x1={x} x2={x} y1={y - 5} y2={y} stroke="#000" strokeWidth={1} />;
  return (
    <g>
      <line x1={x} x2={x} y1={y - 5} y2={y + 8} stroke="#000" strokeWidth={1.5} />
      <text x={x} y={y + 31} textAnchor="middle" fontSize={20} fontFamily={LATIN} fill="#000">
        {xTickLabels[i]}
      </text>
    </g>
  );
}

function LeftTick({ x, y, payload }: any) {
  const v = payload.value;
  const major = leftTicks.some((t) => Math.abs(t - v) < 1e-6);
  return (
    <g>
      <line x1={x - (major ? 8 : 5)} x2={x} y1={y} y2={y} stroke="#000" strokeWidth={1.2} />
      {major && (
        <text x={x - 14} y={y} dy="0.36em" textAnchor="end" fontSize={21} fontFamily={LATIN} fill="#000">
          {v.toFixed(1)}
        </text>
      )}
    </g>
  );
}

function RightTick({ x, y, payload }: any) {
  const v = payload.value;
  const major = rightTicks.includes(v);
  return (
    <g>
      <line x1={x - 6} x2={x + (major ? 6 : 0)} y1={y} y2={y} stroke="#000" strokeWidth={1.2} />
      {major && (
        <text x={x + 14} y={y} dy="0.36em" textAnchor="start" fontSize={21} fontFamily={LATIN} fill="#000">
          {v}
        </text>
      )}
    </g>
  );
}

// fixed-width rain column centred on the bar slot the library computes
function RainBar({ x, y, width, height }: any) {
  if (![x, y, width, height].every((n) => typeof n === "number" && isFinite(n)) || height <= 0) return null;
  return <rect x={x + width / 2 - 2} y={y} width={4} height={height} fill={C.rain} />;
}

function SurveyMark({ cx, cy, payload }: any) {
  if (cx == null || cy == null) return null;
  const lbl = `（${payload.label}）`;
  return (
    <g>
      <text x={cx} y={cy - 76} textAnchor="middle" fontSize={19} fontFamily={JP} fill="#000">
        一斉測定
      </text>
      <text x={cx} y={cy - 47} textAnchor="middle" fontSize={18} fontFamily={JP} fill="#000"
        textLength={24 + 9 * payload.label.length} lengthAdjust="spacingAndGlyphs">
        {lbl}
      </text>
      <polygon points={`${cx - 15},${cy - 27} ${cx + 15},${cy - 27} ${cx},${cy - 2}`} fill="none" stroke="#000" strokeWidth={3} />
    </g>
  );
}

const legendItems = [
  { name: "日降水量（姫路）", color: C.rain, kind: "bar", col: 0, row: 0 },
  { name: "D3-4", color: C.d34, kind: "line", col: 0, row: 1 },
  { name: "C9-5", color: C.c95, kind: "line", col: 0, row: 2 },
  { name: "E12-5", color: C.e125, kind: "line", col: 0, row: 3, red: true },
  { name: "B13-6a", color: C.b136a, kind: "line", col: 0, row: 4 },
  { name: "潮位速報（飾磨）", color: C.tide, kind: "line", col: 0, row: 5 },
  { name: "H4-5", color: C.h45, kind: "line", col: 1, row: 1 },
  { name: "I8-5", color: C.i85, kind: "line", col: 1, row: 2, red: true },
  { name: "H9-5", color: C.h95, kind: "line", col: 1, row: 3 },
  { name: "H13-5", color: C.h135, kind: "line", col: 1, row: 4 },
  { name: "潮位予測（飾磨）", color: C.tide, kind: "dot", col: 1, row: 5 },
  { name: "L4-5", color: C.l45, kind: "line", col: 2, row: 1 },
  { name: "L9-5", color: C.l95, kind: "line", col: 2, row: 2 },
  { name: "K10-5", color: C.k105, kind: "line", col: 2, row: 3, red: true },
  { name: "L12-5", color: C.l125, kind: "line", col: 2, row: 4 },
];
const legendColX = [26, 302, 579];
const legendRowY = [16, 52, 89, 124, 160, 196];

function ChartLegend() {
  return (
    <div style={{ position: "absolute", left: 155, top: 6, width: 828, height: 215, border: "1.5px solid #000", background: "#fff", boxSizing: "border-box" }}>
      {legendItems.map((it) => (
        <div key={it.name} style={{ position: "absolute", left: legendColX[it.col], top: legendRowY[it.row] - 14, height: 28, display: "flex", alignItems: "center", whiteSpace: "nowrap" }}>
          {it.kind === "bar" ? (
            <div style={{ width: 55, height: 11, background: it.color }} />
          ) : (
            <div style={{ width: 55, height: 0, borderTop: `2px ${it.kind === "dot" ? "dotted" : "solid"} ${it.color}` }} />
          )}
          <span style={{ marginLeft: 8, fontSize: 20, fontFamily: MIXED, color: it.red ? "#FF0000" : "#000" }}>{it.name}</span>
        </div>
      ))}
    </div>
  );
}

const lineCommon = { yAxisId: "left", dataKey: "v", dot: false, activeDot: false, isAnimationActive: false, legendType: "none" as const, type: "linear" as const };

export default function App() {
  return (
    <div style={{ position: "absolute", left: 0, top: 0, width: 1786, height: 1155, background: "#fff", overflow: "hidden" }}>
      <ComposedChart width={1786} height={1155} data={rainData} margin={{ top: 20, right: 21, bottom: 23, left: 33 }}>
        <XAxis dataKey="d" type="number" domain={[0, 247]} ticks={xAllTicks} interval={0}
          tick={(p: any) => <XTick {...p} />} tickLine={false} tickSize={0} tickMargin={0} height={50}
          axisLine={{ stroke: "#000", strokeWidth: 2 }} />
        <YAxis yAxisId="left" type="number" domain={[-1, 4]} ticks={leftAllTicks} interval={0}
          tick={(p: any) => <LeftTick {...p} />} tickLine={false} tickSize={0} tickMargin={0} width={100}
          axisLine={{ stroke: "#000", strokeWidth: 2 }} />
        <YAxis yAxisId="right" orientation="right" type="number" domain={[0, 200]} ticks={rightAllTicks} interval={0}
          tick={(p: any) => <RightTick {...p} />} tickLine={false} tickSize={0} tickMargin={0} width={100}
          axisLine={{ stroke: "#000", strokeWidth: 2 }} />

        {leftTicks.slice(1, -1).map((v) => (
          <ReferenceLine key={v} yAxisId="left" y={v} stroke="#9a9a9a" strokeDasharray="1.5 1.5" strokeWidth={1} />
        ))}
        <ReferenceLine yAxisId="left" y={4} stroke="#000" strokeWidth={2} />

        <Bar dataKey="rain" yAxisId="right" fill={C.rain} barSize={4} shape={(p: any) => <RainBar {...p} />} isAnimationActive={false} legendType="none" />

        <Line {...lineCommon} data={zigzag(tideHi, tideLo, 0, 0.2)} stroke={C.tide} strokeWidth={1.3} />
        <Line {...lineCommon} data={zigzag(predHi, predLo, 186, 0.2)} stroke={C.tide} strokeWidth={1.6} strokeDasharray="1.5 1" />
        <Line {...lineCommon} data={zigzag(l45Hi, l45Lo, 0, 0.35)} stroke={C.l45} strokeWidth={1.3} />
        <Line {...lineCommon} data={zigzag(l95Hi, l95Lo, 0, 0.3)} stroke={C.l95} strokeWidth={1.3} />
        <Line {...lineCommon} data={zigzag(l125Hi, l125Lo, 0, 0.3)} stroke={C.l125} strokeWidth={1.3} />

        <Line {...lineCommon} data={zigzag(h95Hi, h95Lo, 0, 0.3)} stroke={C.h95} strokeWidth={1.5} />
        <Line {...lineCommon} data={pts(e125)} stroke={C.e125} strokeWidth={2} />
        <Line {...lineCommon} data={pts(i85)} stroke={C.i85} strokeWidth={2} />
        <Line {...lineCommon} data={pts(k105)} stroke={C.k105} strokeWidth={1.6} />
        <Line {...lineCommon} data={pts(h135)} stroke={C.h135} strokeWidth={2} />
        <Line {...lineCommon} data={pts(b136a)} stroke={C.b136a} strokeWidth={2} />
        <Line {...lineCommon} data={pts(c95)} stroke={C.c95} strokeWidth={1.6} />
        <Line {...lineCommon} data={pts(h45)} stroke={C.h45} strokeWidth={2} />
        <Line {...lineCommon} data={pts(d34)} stroke={C.d34} strokeWidth={1.6} />

        <Scatter yAxisId="left" data={surveyData} dataKey="v" shape={(p: any) => <SurveyMark {...p} />} isAnimationActive={false} legendType="none" />
      </ComposedChart>

      <ChartLegend />

      <div style={{ position: "absolute", left: 25, top: 534, transform: "translate(-50%, -50%) rotate(-90deg)", whiteSpace: "nowrap", fontSize: 24, fontFamily: MIXED, color: "#000" }}>
        地下水位及び潮位（T.P. m）
      </div>
      <div style={{ position: "absolute", left: 1760, top: 501, transform: "translate(-50%, -50%) rotate(90deg)", whiteSpace: "nowrap", fontSize: 24, fontFamily: MIXED, color: "#000" }}>
        日降水量（mm）
      </div>
      <div style={{ position: "absolute", left: 898, top: 1139, transform: "translate(-50%, -50%)", whiteSpace: "nowrap", fontSize: 23, fontFamily: JP, fontWeight: 700, color: "#000" }}>
        年月日
      </div>
    </div>
  );
}
